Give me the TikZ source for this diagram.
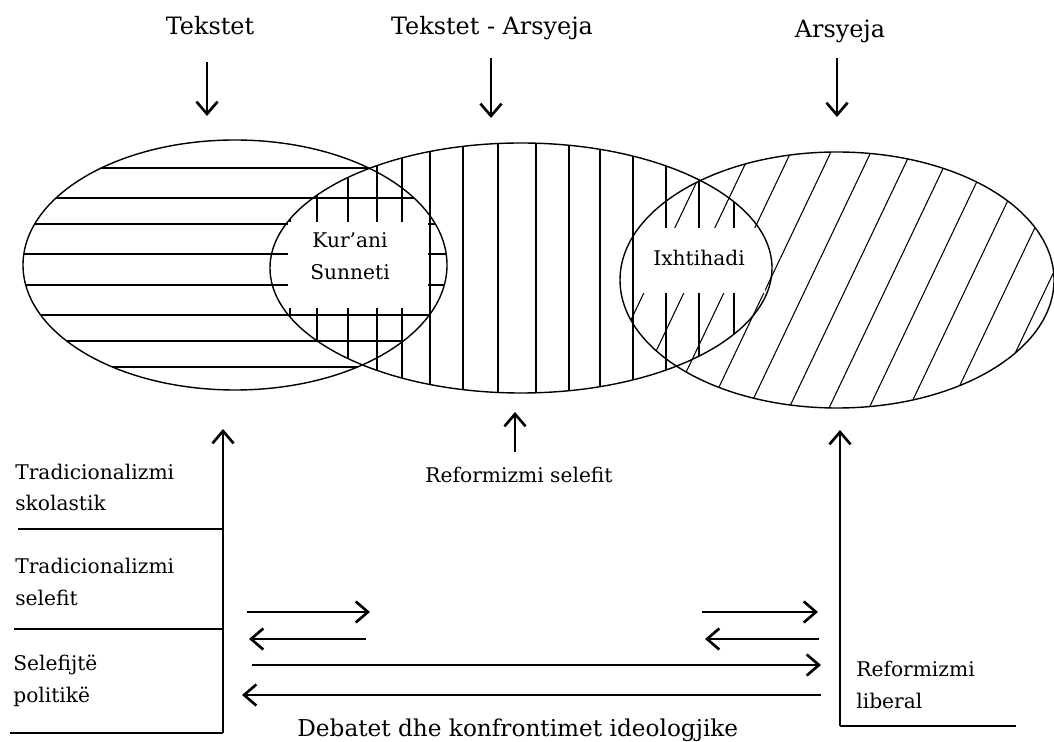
\documentclass[tikz,border=0pt]{standalone}
\usepackage{fontspec}
\setmainfont{DejaVu Serif}
\usetikzlibrary{arrows.meta}
\begin{document}
\begin{tikzpicture}[x=0.02cm,y=-0.02cm,
    lbl/.style={font=\fontsize{11.5}{18}\selectfont,inner sep=0pt},
    big lbl/.style={font=\fontsize{13.6}{18}\selectfont,inner sep=0pt},
    arr/.style={line width=1.5pt,-{Straight Barb[length=7pt,width=12pt]}},
    bar/.style={line width=1.5pt},
    hatch/.style={line width=0.6pt},
    rim/.style={line width=0.8pt}]
  \useasboundingbox (0,0) rectangle (1054,742);

  % the three fields and their hatching
  \begin{scope}
    \clip (235,265) ellipse [x radius=212,y radius=125];
    \foreach \y in {168,198,224,254,285,315,341,367}
      \draw[hatch] (0,\y) -- (460,\y);
  \end{scope}
  \begin{scope}
    \clip (521,268) ellipse [x radius=251,y radius=125];
    \foreach \x in {290,317,348,377,402,430,463,498,536,569,600,633,666,699,734}
      \draw[hatch] (\x,130) -- (\x,410);
  \end{scope}
  \begin{scope}
    \clip (837,280) ellipse [x radius=217,y radius=128];
    \foreach \x in {570,610,...,1090}
      \draw[hatch] (\x-80,448) -- (\x+80,112);
  \end{scope}
  \fill[white] (288,222) rectangle (428,308);
  \fill[white] (640,228) rectangle (765,293);
  \draw[rim] (235,265) ellipse [x radius=212,y radius=125];
  \draw[rim] (521,268) ellipse [x radius=251,y radius=125];
  \draw[rim] (837,280) ellipse [x radius=217,y radius=128];

  \node[lbl,align=center] (kurani) at (350,256) {Kur'ani\\Sunneti};
  \node[lbl] (ixhtihadi) at (699,258) {Ixhtihadi};

  % sources
  \node[big lbl,anchor=base] (tekstet) at (210,35) {Tekstet};
  \node[big lbl,anchor=base] (tekstetarsyeja) at (492,35) {Tekstet - Arsyeja};
  \node[big lbl,anchor=base] (arsyeja) at (840,38) {Arsyeja};
  \coordinate (1) at (207,62);  \coordinate (1e) at (207,116);
  \coordinate (2) at (491,58);  \coordinate (2e) at (491,118);
  \coordinate (3) at (837,58);  \coordinate (3e) at (837,117);
  \draw[arr] (1) -- (1e);
  \draw[arr] (2) -- (2e);
  \draw[arr] (3) -- (3e);

  \node[lbl,anchor=base] (selefit) at (519,483) {Reformizmi selefit};
  \coordinate (4) at (515,452); \coordinate (4e) at (515,412);
  \draw[arr] (4) -- (4e);

  % currents on the left
  \coordinate (lb) at (223,733);
  \coordinate (lt) at (223,429);
  \draw[arr] (lb) -- (lt);
  \draw[bar] (10,733) -- (lb);
  \draw[bar] (18,529) -- (223,529);
  \draw[bar] (14,629) -- (223,629);
  \node[lbl,align=left,anchor=base west] (skolastik) at (15,511) {Tradicionalizmi\\skolastik};
  \node[lbl,align=left,anchor=base west] (tradselefit) at (15,605) {Tradicionalizmi\\selefit};
  \node[lbl,align=left,anchor=base west] (politike) at (13,702) {Selefijtë\\politikë};

  % current on the right
  \coordinate (rb) at (840,726);
  \coordinate (rt) at (840,430);
  \draw[arr] (rb) -- (rt);
  \draw[bar] (rb) -- (1016,726);
  \node[lbl,align=left,anchor=base west] (liberal) at (856,708) {Reformizmi\\liberal};

  % debates
  \draw[arr] (247,612) -- (370,612);
  \draw[arr] (366,639) -- (249,639);
  \draw[arr] (702,612) -- (818,612);
  \draw[arr] (819,639) -- (705,639);
  \draw[arr] (252,665) -- (821,665);
  \draw[arr] (821,695) -- (242,695);
  \node[lbl,font=\fontsize{13.2}{18}\selectfont,anchor=base west] (debatet) at (297,736) {Debatet dhe konfrontimet ideologjike};
\end{tikzpicture}
\end{document}
